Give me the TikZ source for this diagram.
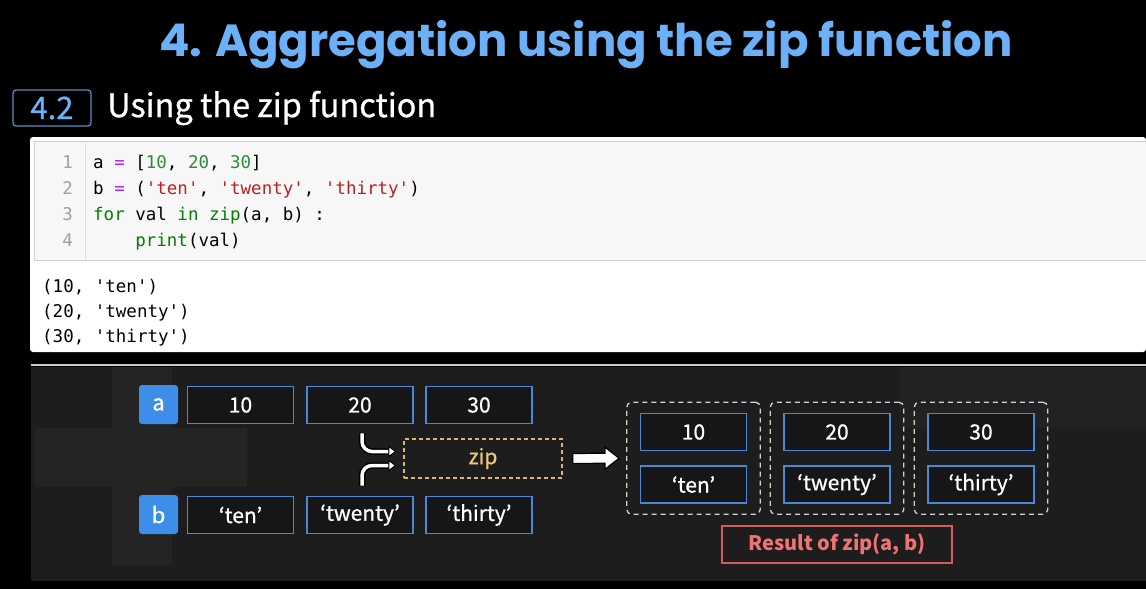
\documentclass[tikz,border=0pt]{standalone}
\usepackage{fontspec}
\setmainfont{Noto Sans CJK KR}
\setmonofont{DejaVu Sans Mono}
\newfontfamily\titlefont{Poppins}
\newfontfamily\medfont{Noto Sans CJK KR}[FakeBold=0.8]
\usetikzlibrary{arrows.meta,fit,calc}

\definecolor{titleblue}{HTML}{6CB0F8}
\definecolor{secblue}{HTML}{5B8CC4}
\definecolor{boxblue}{HTML}{4A88D6}
\definecolor{tagblue}{HTML}{3C8EE8}
\definecolor{panelbg}{HTML}{1D1D1D}
\definecolor{panelline}{HTML}{C8C8C8}
\definecolor{faintA}{HTML}{242424}
\definecolor{faintB}{HTML}{222222}
\definecolor{cellbox}{HTML}{161616}
\definecolor{zipyellow}{HTML}{D8B870}
\definecolor{ziptext}{HTML}{EAC77A}
\definecolor{resred}{HTML}{D65C5C}
\definecolor{restext}{HTML}{F07272}
\definecolor{groupgray}{HTML}{D0D0D0}
\definecolor{inbg}{HTML}{F7F7F7}
\definecolor{inborder}{HTML}{CFCFCF}
\definecolor{gutterline}{HTML}{DDDDDD}
\definecolor{linenum}{HTML}{A0A0A0}
\definecolor{cdgreen}{HTML}{008000}
\definecolor{cdnumc}{HTML}{2E8B3A}
\definecolor{cdstrc}{HTML}{BA2121}
\definecolor{cdopc}{HTML}{AA22FF}

% syntax colouring helpers for the code cell
\newcommand\cdkw[1]{\textcolor{cdgreen}{#1}}
\newcommand\cdnum[1]{\textcolor{cdnumc}{#1}}
\newcommand\cdstr[1]{\textcolor{cdstrc}{#1}}
\newcommand\cdop[1]{\textcolor{cdopc}{#1}}

\begin{document}
\begin{tikzpicture}[x=1pt,y=-1pt,
  codeline/.style={anchor=base west, inner sep=0pt, text=black,
    font=\ttfamily\fontsize{17.5}{20}\selectfont},
  lnum/.style={anchor=base east, inner sep=0pt, text=linenum,
    font=\ttfamily\fontsize{17.5}{20}\selectfont},
  cell/.style={draw=boxblue, line width=1.6pt, fill=cellbox, text=white,
    minimum width=106pt, minimum height=37pt, inner sep=0pt,
    font=\medfont\fontsize{21}{24}\selectfont},
  tag/.style={fill=tagblue, rounded corners=3pt, text=white,
    minimum width=39pt, minimum height=39pt, inner sep=0pt,
    font=\medfont\fontsize{22}{24}\selectfont},
  zipbox/.style={draw=zipyellow, dashed, dash pattern=on 4pt off 3pt,
    line width=1.4pt, text=ziptext, minimum width=158pt, minimum height=39pt,
    inner sep=0pt, font=\medfont\fontsize{21}{24}\selectfont},
  group/.style={draw=groupgray, dashed, dash pattern=on 5pt off 4pt,
    line width=1.3pt, rounded corners=5pt, inner xsep=13pt, inner ysep=10.5pt},
  resbox/.style={draw=resred, line width=1.6pt, text=restext,
    minimum width=230pt, minimum height=37pt, inner sep=0pt,
    font=\bfseries\fontsize{20}{22}\selectfont},
  merge/.style={white, line width=3.5pt, rounded corners=10pt,
    -{Triangle[length=8pt,width=12pt,fill=white,color=black,line width=1pt]},
    preaction={draw=black, line width=6.5pt, shorten >=6pt, -}},
]
\useasboundingbox (0,0) rectangle (1146,589);
\fill[black] (0,0) rectangle (1146,589);

% heading
\node[text=titleblue, inner sep=0pt,
  font=\titlefont\bfseries\fontsize{45}{50}\selectfont] (title) at (586,45)
  {4. Aggregation using the zip function};

% section label
\node[draw=secblue, line width=1.3pt, rounded corners=3pt, text=titleblue,
  minimum width=78pt, minimum height=36pt, inner sep=0pt,
  font=\medfont\fontsize{31}{34}\selectfont] (secnum) at (52,108) {4.2};
\node[anchor=west, inner sep=0pt, text=white,
  font=\medfont\fontsize{32.5}{36}\selectfont] (sectitle) at (107,108) {Using the zip function};

% notebook cell
\fill[white, rounded corners=3pt] (30,137) rectangle (1146,352);
\filldraw[fill=inbg, draw=inborder, line width=1pt] (34,141) rectangle (1146,260);
\draw[gutterline, line width=1pt] (85,141) -- (85,260);

\node[lnum] (n1) at (73,168) {1};
\node[lnum] (n2) at (73,194) {2};
\node[lnum] (n3) at (73,220) {3};
\node[lnum] (n4) at (73,246) {4};

\node[codeline] (c1) at (93,168) {a \cdop{=} [\cdnum{10}, \cdnum{20}, \cdnum{30}]};
\node[codeline] (c2) at (93,194) {b \cdop{=} (\cdstr{'ten'}, \cdstr{'twenty'}, \cdstr{'thirty'})};
\node[codeline] (c3) at (93,220) {\cdkw{for} val \cdkw{in} \cdkw{zip}(a, b) :};
\node[codeline] (c4) at (93,246) {\hphantom{xxxx}\cdkw{print}(val)};

\node[codeline] (o1) at (42,292) {(10, 'ten')};
\node[codeline] (o2) at (42,317) {(20, 'twenty')};
\node[codeline] (o3) at (42,342) {(30, 'thirty')};

% diagram panel
\fill[panelbg] (31,367) rectangle (1146,581);
\fill[faintA] (112,367) rectangle (172,565);
\fill[faintA] (35,428) rectangle (247,487);
\fill[faintB] (900,367) rectangle (1146,428);
\draw[panelline, line width=2pt] (31,365) -- (1146,365);

% inputs a and b
\node[tag] (ta) at (158.5,404.5) {a};
\node[tag] (tb) at (158.5,514.5) {b};
\node[cell] (a10) at (240.5,405) {10};
\node[cell] (a20) at (360,405) {20};
\node[cell] (a30) at (479,405) {30};
\node[cell] (bten) at (240.5,515) {‘ten’};
\node[cell] (btwenty) at (360,515) {‘twenty’};
\node[cell] (bthirty) at (479,515) {‘thirty’};

% zip step
\node[zipbox] (zip) at (483,458.5) {zip};
\draw[merge] ($(a20.south)+(2,9)$) |- ($(zip.west)+(-7,-7)$);
\draw[merge] ($(btwenty.north)+(2,-10)$) |- ($(zip.west)+(-7,7)$);

% results
\node[cell] (r10) at (693.5,432) {10};
\node[cell] (rten) at (693.5,484.5) {‘ten’};
\node[cell] (r20) at (837,432) {20};
\node[cell] (rtwenty) at (837,484.5) {‘twenty’};
\node[cell] (r30) at (981,432) {30};
\node[cell] (rthirty) at (981,484.5) {‘thirty’};
\node[group, fit=(r10)(rten)] (g1) {};
\node[group, fit=(r20)(rtwenty)] (g2) {};
\node[group, fit=(r30)(rthirty)] (g3) {};

% block arrow from zip to the result groups
\coordinate (arS) at ($(zip.east)+(10,0)$);
\coordinate (arE) at ($(g1.west)+(-7,0)$);
\filldraw[fill=white, draw=black, line width=1.2pt]
  ($(arS)+(0,-5)$) -- ($(arE)+(-14,-5)$) -- ($(arE)+(-14,-11)$) -- (arE)
  -- ($(arE)+(-14,11)$) -- ($(arE)+(-14,5)$) -- ($(arS)+(0,5)$) -- cycle;

\node[resbox] (res) at (837,544.5) {Result of zip(a, b)};
\end{tikzpicture}
\end{document}
